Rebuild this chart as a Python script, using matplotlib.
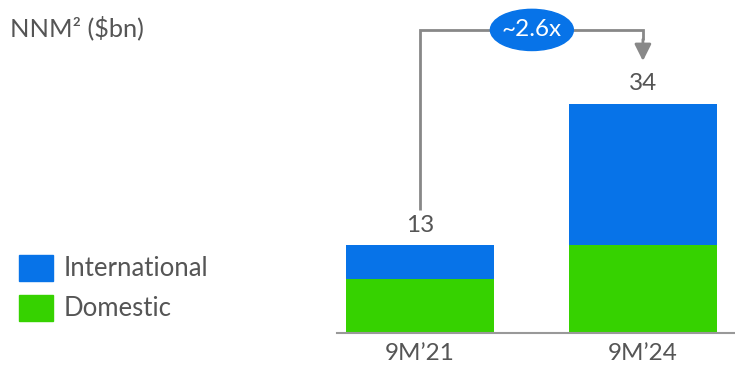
import matplotlib.pyplot as plt
from matplotlib.patches import Ellipse, Rectangle

periods = ["9M\u201921", "9M\u201924"]
domestic = [8, 13]
international = [5, 21]
totals = [13, 34]
growth_label = "~2.6x"

blue = "#0773E8"
green = "#36D200"
grey_text = "#555555"
grey_line = "#888888"

plt.rcParams["font.family"] = ["Lato", "DejaVu Sans"]

fig = plt.figure(figsize=(7.35, 3.65), dpi=100)
ax = fig.add_axes([337 / 735, 32 / 365, 398 / 735, 333 / 365])

x = range(len(periods))
width = 0.664
ax.bar(x, domestic, width, color=green, label="Domestic")
ax.bar(x, international, width, bottom=domestic, color=blue, label="International")

ax.set_xlim(-0.372, 1.413)
ax.set_ylim(0, 333 / 6.75)

for i, t in enumerate(totals):
    ax.text(i, t + 1.4, str(t), ha="center", va="bottom", fontsize=17.5, color=grey_text)

# growth connector from the first bar to the second
top = 44.9
ax.plot([0, 0, 1, 1], [totals[0] + 5.2, top, top, top - 1.5],
        color=grey_line, lw=2, solid_capstyle="butt", solid_joinstyle="miter")
ax.annotate("", xy=(1, totals[1] + 6.3), xytext=(1, top - 1.4),
            arrowprops=dict(arrowstyle="-|>,head_length=1.0,head_width=0.5",
                            color=grey_line, lw=2, shrinkA=0, shrinkB=0))
ax.add_patch(Ellipse((0.502, top), 0.372, 6.1, color=blue, zorder=3))
ax.text(0.502, top, growth_label, ha="center", va="center", fontsize=17.5,
        color="white", zorder=4)

ax.set_xticks(list(x))
ax.set_xticklabels(periods, fontsize=17.5, color=grey_text)
ax.tick_params(axis="x", length=0, pad=7)
ax.set_yticks([])
for side in ["top", "right", "left"]:
    ax.spines[side].set_visible(False)
ax.spines["bottom"].set_color("#999999")
ax.spines["bottom"].set_linewidth(1.5)

fig.text(10 / 735, 1 - 28 / 365, "NNM\u00b2 ($bn)", ha="left", va="center",
         fontsize=18.3, color=grey_text)

# legend
for label, color, y in [("International", blue, 268), ("Domestic", green, 308)]:
    fig.add_artist(Rectangle((19 / 735, 1 - (y + 13) / 365), 34 / 735, 26 / 365,
                             color=color, transform=fig.transFigure))
    fig.text(64 / 735, 1 - y / 365, label, ha="left", va="center",
             fontsize=18.5, color=grey_text)

fig.savefig("out.png", dpi=100)
